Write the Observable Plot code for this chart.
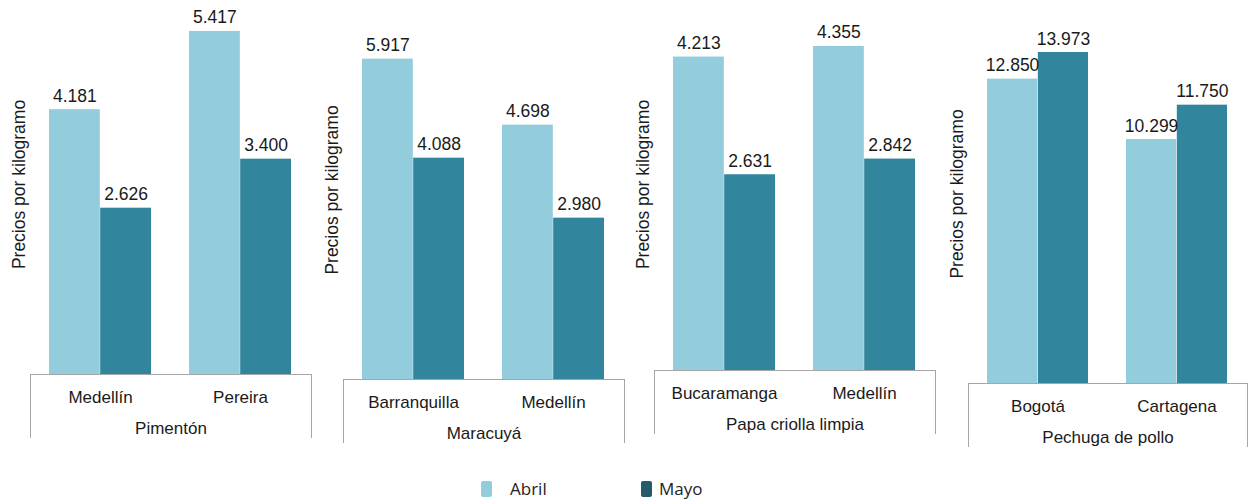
<!DOCTYPE html>
<html>
<head>
<meta charset="utf-8">
<script src="https://cdn.jsdelivr.net/npm/d3@7"></script>
<script src="https://cdn.jsdelivr.net/npm/@observablehq/plot@0.6"></script>
<style>
  html, body { margin: 0; padding: 0; background: #fff; }
  #chart { position: relative; width: 1254px; height: 499px; overflow: hidden; background: #fff; }
  .panel { position: absolute; }
  .box { position: absolute; border: 1px solid #a6a6a6; border-bottom: none; box-sizing: border-box; }
  .legend { position: absolute; font-family: "Open Sans", sans-serif; font-size: 17px; color: #222; }
  .sw { position: absolute; width: 11px; height: 16px; border-radius: 2px; }
</style>
</head>
<body>
<div id="chart"></div>
<script>
// ---- data ----
const products = ["Pimentón", "Maracuyá", "Papa criolla limpia", "Pechuga de pollo"];
const cities = [["Medellín", "Pereira"], ["Barranquilla", "Medellín"], ["Bucaramanga", "Medellín"], ["Bogotá", "Cartagena"]];
const abril = [[4181, 5417], [5917, 4698], [4213, 4355], [12850, 10299]];
const mayo = [[2626, 3400], [4088, 2980], [2631, 2842], [13973, 11750]];
const months = ["Abril", "Mayo"];
const yLabel = "Precios por kilogramo";
const yMax = [6000, 7000, 5000, 16000];

// ---- layout ----
const boxLeft = [30, 343, 654, 968];
const boxRight = [311, 624, 935, 1247];
const baseline = [374, 379, 370, 383];
const plotH = [380, 379, 372, 379];
const colors = {Abril: "#93cddd", Mayo: "#31859c"};
const legendColors = {Abril: "#93cddd", Mayo: "#235b6b"};

const fmt = d3.formatLocale({decimal: ",", thousands: ".", grouping: [3], currency: ["$", ""]}).format(",d");
const chart = document.getElementById("chart");

const mL = 30, mR = 5, mT = 30, mB = 70;
const pi = 0.2714, po = 0.1357;

products.forEach((prod, i) => {
  const rows = cities[i].map((c, j) => ({city: c, Abril: abril[i][j], Mayo: mayo[i][j]}));
  const boxW = boxRight[i] - boxLeft[i];
  const width = boxW + mL + mR;
  const height = mT + plotH[i] + mB;
  const step = boxW / (cities[i].length - pi + 2 * po);
  const half = step * (1 - pi) / 2;

  const plot = Plot.plot({
    width, height,
    marginLeft: mL, marginRight: mR, marginTop: mT, marginBottom: mB,
    style: {background: "transparent", overflow: "visible", fontFamily: "'Liberation Sans', Arial, sans-serif", fontSize: "17px", color: "#1a1a1a"},
    x: {type: "band", domain: cities[i], paddingInner: pi, paddingOuter: po, axis: null},
    y: {domain: [0, yMax[i]], axis: null},
    marks: [
      Plot.barY(rows, {x: "city", y: "Abril", fill: colors.Abril, insetLeft: 0, insetRight: half}),
      Plot.barY(rows, {x: "city", y: "Mayo", fill: colors.Mayo, insetLeft: half, insetRight: 0}),
      Plot.text(rows, {x: "city", y: "Abril", text: d => fmt(d.Abril), dx: -half / 2, dy: -8, lineAnchor: "bottom", fill: "#1a1a1a", fontSize: 17.5}),
      Plot.text(rows, {x: "city", y: "Mayo", text: d => fmt(d.Mayo), dx: half / 2, dy: -8, lineAnchor: "bottom", fill: "#1a1a1a", fontSize: 17.5}),
      Plot.text(cities[i], {x: d => d, frameAnchor: "bottom", dy: 23, lineAnchor: "middle", fill: "#1a1a1a", fontSize: 17}),
      Plot.text([prod], {frameAnchor: "bottom", dy: 54, lineAnchor: "middle", fill: "#1a1a1a", fontSize: 17}),
      Plot.text([yLabel], {frameAnchor: "left", rotate: -90, dx: -11, textAnchor: "middle", lineAnchor: "middle", fill: "#1a1a1a", fontSize: 17.5})
    ]
  });

  const wrap = document.createElement("div");
  wrap.className = "panel";
  wrap.style.left = (boxLeft[i] - mL) + "px";
  wrap.style.top = (baseline[i] - plotH[i] - mT) + "px";
  wrap.appendChild(plot);

  const box = document.createElement("div");
  box.className = "box";
  box.style.left = boxLeft[i] + "px";
  box.style.top = baseline[i] + "px";
  box.style.width = (boxW + 1) + "px";
  box.style.height = "64px";
  chart.appendChild(box);
  chart.appendChild(wrap);
});

// ---- legend ----
const legendPos = [{sx: 481, tx: 510}, {sx: 641, tx: 659}];
months.forEach((m, k) => {
  const sw = document.createElement("div");
  sw.className = "sw";
  sw.style.left = legendPos[k].sx + "px";
  sw.style.top = "481px";
  sw.style.background = legendColors[m];
  chart.appendChild(sw);
  const t = document.createElement("div");
  t.className = "legend";
  t.style.left = legendPos[k].tx + "px";
  t.style.top = "477px";
  t.textContent = m;
  chart.appendChild(t);
});
</script>
</body>
</html>
